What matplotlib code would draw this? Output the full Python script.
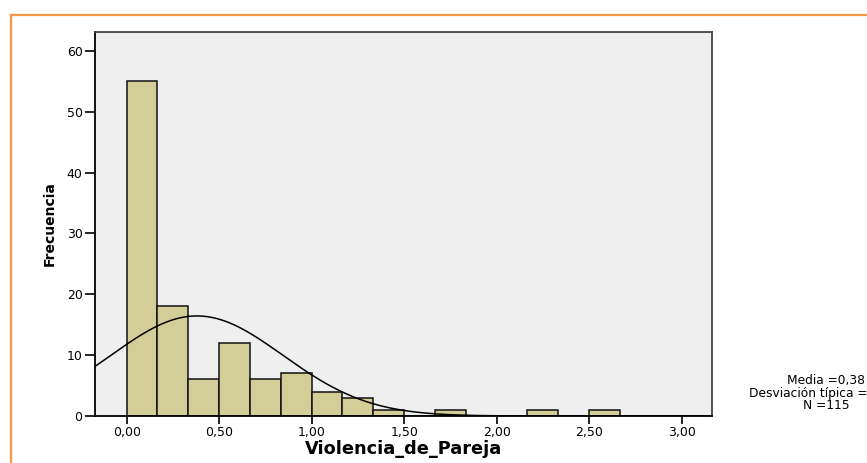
import numpy as np
import matplotlib
matplotlib.use("Agg")
import matplotlib.pyplot as plt
from matplotlib.lines import Line2D

plt.rcParams['font.family'] = ['DejaVu Sans']

# Histogram of Violencia_de_Pareja: bins of width 1/6 starting at 0
bin_width = 1.0 / 6.0
counts = [55, 18, 6, 12, 6, 7, 4, 3, 1, 0, 1, 0, 0, 1, 0, 1]
mean_val = 0.38
sd_val = 0.465
n_total = 115
x_ticks = [0.0, 0.5, 1.0, 1.5, 2.0, 2.5, 3.0]
x_tick_labels = ["0,00", "0,50", "1,00", "1,50", "2,00", "2,50", "3,00"]
y_ticks = [0, 10, 20, 30, 40, 50, 60]
stats_lines = ["Media =0,38", "Desviación típica =0,465", "N =115"]

W, H = 867, 463
fig = plt.figure(figsize=(W / 100, H / 100), dpi=100)
fig.patch.set_facecolor('white')

ax = fig.add_axes([95 / W, 1 - 416 / H, (712 - 95) / W, (416 - 32) / H])
ax.set_facecolor('#EFEFEF')

edges = np.arange(len(counts)) * bin_width
ax.bar(edges, counts, width=bin_width, align='edge', color='#D3CE97',
       edgecolor='#111111', linewidth=1.1, zorder=2)

# Normal curve scaled to counts
xs = np.linspace(-0.3, 3.3, 600)
ys = n_total * bin_width / (sd_val * np.sqrt(2 * np.pi)) * np.exp(-0.5 * ((xs - mean_val) / sd_val) ** 2)
ax.plot(xs, ys, color='black', linewidth=1.1, zorder=3)

ax.set_xlim(-0.171, 3.164)
ax.set_ylim(0, 63.1)
ax.set_xticks(x_ticks)
ax.set_xticklabels(x_tick_labels)
ax.set_yticks(y_ticks)
ax.tick_params(axis='both', direction='out', width=1.2, labelsize=9,
               colors='black')
ax.tick_params(axis='x', length=5.5, pad=1.5)
ax.tick_params(axis='y', length=7, pad=2)

for side in ['left', 'bottom']:
    ax.spines[side].set_color('black')
    ax.spines[side].set_linewidth(1.3)
for side in ['top', 'right']:
    ax.spines[side].set_color('#444444')
    ax.spines[side].set_linewidth(1.3)

ax.set_xlabel('Violencia_de_Pareja', fontsize=12.8, fontweight='bold', labelpad=1)
ax.set_ylabel('Frecuencia', fontsize=10, fontweight='bold', labelpad=7)

# Summary statistics block
fig.text(826 / W, 1 - 393 / H, "\n".join(stats_lines), fontsize=8.8,
         ha='center', va='center', multialignment='center', linespacing=0.92)

# Orange frame
orange = '#F79646'
fig.add_artist(Line2D([10.5 / W, 10.5 / W], [0, 1 - 15 / H], color=orange,
                      linewidth=1.6, transform=fig.transFigure))
fig.add_artist(Line2D([10.5 / W, 1], [1 - 15 / H, 1 - 15 / H], color=orange,
                      linewidth=1.6, transform=fig.transFigure))

fig.savefig('out.png', dpi=100)
